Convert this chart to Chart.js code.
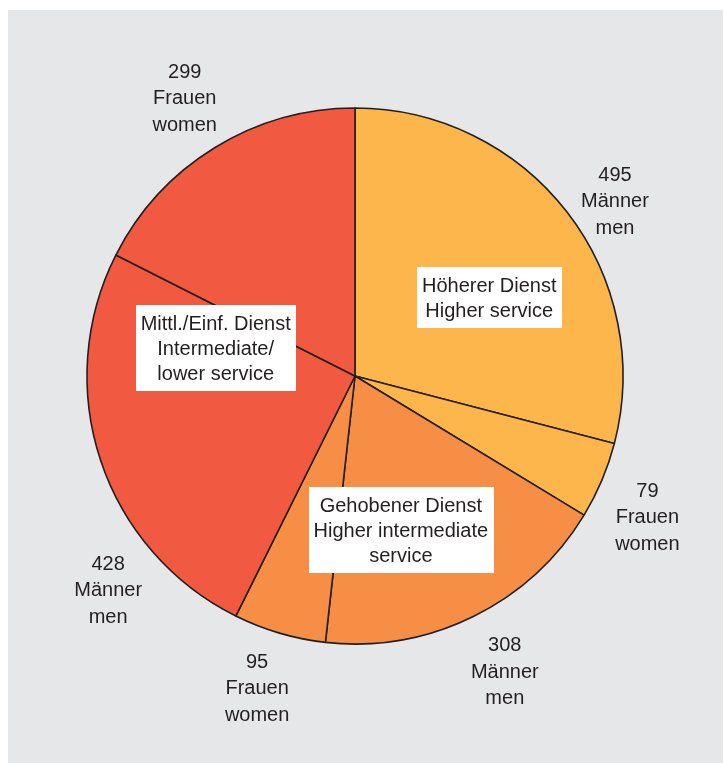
<!DOCTYPE html>
<html>
<head>
<meta charset="utf-8">
<script src="https://cdn.jsdelivr.net/npm/chart.js@4.4.0/dist/chart.umd.min.js"></script>
<style>
  html, body { margin: 0; padding: 0; background: #ffffff; }
  canvas { display: block; }
</style>
</head>
<body>
<canvas id="pie" width="723" height="763"></canvas>
<script>
// Beschäftigte nach Laufbahngruppe und Geschlecht
const values = [495, 79, 308, 95, 428, 299];
const sliceCounts = ["495", "79", "308", "95", "428", "299"];
const sliceLabels = [
    ["Männer", "men"],
    ["Frauen", "women"],
    ["Männer", "men"],
    ["Frauen", "women"],
    ["Männer", "men"],
    ["Frauen", "women"]
];
const sliceGroup = [0, 0, 1, 1, 2, 2];
const groupLabels = [
    ["Höherer Dienst", "Higher service"],
    ["Gehobener Dienst", "Higher intermediate", "service"],
    ["Mittl./Einf. Dienst", "Intermediate/", "lower service"]
];
const groupColors = ["#fdb64b", "#f68e46", "#f15a40"];

const FONT = '20px "Liberation Sans", Arial, Helvetica, sans-serif';
const TEXT = "#231f20";

// panel background (white margin, grey panel)
const panelBg = {
    id: "panelBg",
    beforeDraw(chart) {
        const ctx = chart.ctx;
        ctx.save();
        ctx.fillStyle = "#ffffff";
        ctx.fillRect(0, 0, chart.width, chart.height);
        ctx.fillStyle = "#e6e7e8";
        ctx.fillRect(8, 10, chart.width - 8, chart.height - 10);
        ctx.restore();
    }
};

// outer slice labels + boxed group labels
const pieLabels = {
    id: "pieLabels",
    afterDatasetsDraw(chart, args, opts) {
        const ctx = chart.ctx;
        const arcs = chart.getDatasetMeta(0).data;
        ctx.save();
        ctx.font = FONT;
        ctx.fillStyle = TEXT;
        ctx.textAlign = "center";
        ctx.textBaseline = "middle";

        arcs.forEach((arc, i) => {
            const nudge = opts.nudge[i] || { da: 0, dr: 0 };
            const mid = (arc.startAngle + arc.endAngle) / 2 + nudge.da * Math.PI / 180;
            const r = arc.outerRadius + opts.outerGap + nudge.dr;
            const x = arc.x + Math.cos(mid) * r;
            const y = arc.y + Math.sin(mid) * r + opts.outerShift;
            const lines = [sliceCounts[i]].concat(sliceLabels[i]);
            lines.forEach((t, k) => {
                ctx.fillText(t, x, y + (k - 1) * opts.outerLine);
            });
        });

        groupLabels.forEach((lines, g) => {
            const idx = sliceGroup.map((v, i) => v === g ? i : -1).filter(i => i >= 0);
            const first = arcs[idx[0]];
            const last = arcs[idx[idx.length - 1]];
            const mid = (first.startAngle + last.endAngle) / 2 + (opts.groupNudge[g] || 0) * Math.PI / 180;
            const r = first.outerRadius * opts.groupDist[g];
            const cx = first.x + Math.cos(mid) * r;
            const cy = first.y + Math.sin(mid) * r;
            const w = Math.max(...lines.map(t => ctx.measureText(t).width)) + 10;
            const h = (lines.length - 1) * opts.innerLine + 36;
            ctx.fillStyle = "#ffffff";
            ctx.fillRect(Math.round(cx - w / 2), Math.round(cy - h / 2), Math.round(w), Math.round(h));
            ctx.fillStyle = TEXT;
            lines.forEach((t, k) => {
                ctx.fillText(t, cx, cy + 1 + (k - (lines.length - 1) / 2) * opts.innerLine);
            });
        });
        ctx.restore();
    }
};

new Chart(document.getElementById("pie"), {
    type: "pie",
    data: {
        labels: sliceLabels.map(l => l.join(" ")),
        datasets: [{
            data: values,
            backgroundColor: sliceGroup.map(g => groupColors[g]),
            borderColor: "#231f20",
            borderWidth: 1.6
        }]
    },
    options: {
        responsive: false,
        animation: false,
        devicePixelRatio: 1,
        radius: 268,
        layout: { padding: { left: 0, right: 13, top: 0, bottom: 11 } },
        plugins: {
            legend: { display: false },
            tooltip: { enabled: false },
            pieLabels: {
                outerGap: 56,
                outerLine: 26.5,
                outerShift: 2,
                innerLine: 25,
                nudge: [
                    { da: 3.6, dr: -10 },
                    { da: 2.6, dr: 0 },
                    { da: -0.8, dr: 6 },
                    { da: 1.1, dr: 2 },
                    { da: -22.4, dr: 2 },
                    { da: 0.2, dr: 3 }
                ],
                groupDist: [0.58, 0.6, 0.53],
                groupNudge: [-0.9, -0.4, -2]
            }
        }
    },
    plugins: [panelBg, pieLabels]
});
</script>
</body>
</html>
